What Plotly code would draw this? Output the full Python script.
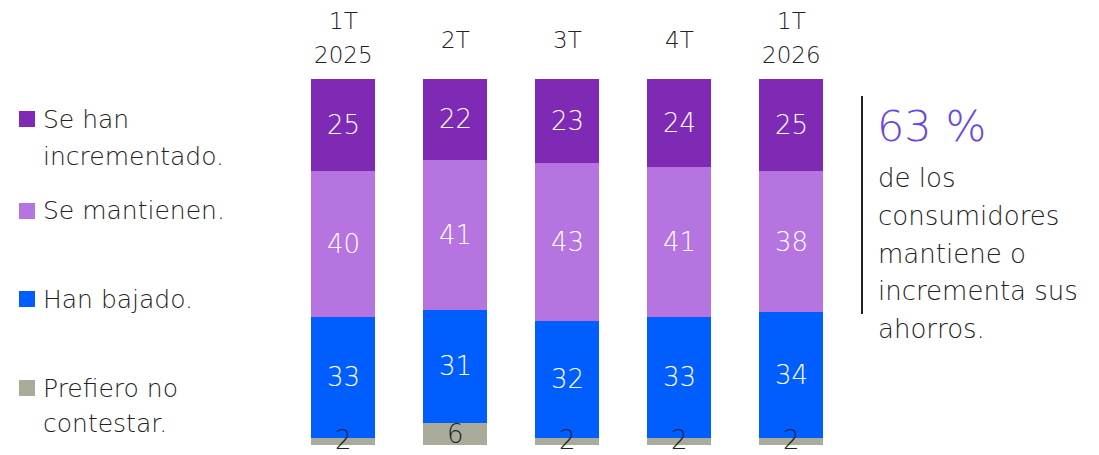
import plotly.graph_objects as go

categories = ["1T<br>2025", "2T", "3T", "4T", "1T<br>2026"]
series_names = ["Prefiero no<br>contestar.", "Han bajado.", "Se mantienen.", "Se han<br>incrementado."]
prefiero = [2, 6, 2, 2, 2]
bajado = [33, 31, 32, 33, 34]
mantienen = [40, 41, 43, 41, 38]
incrementado = [25, 22, 23, 24, 25]
colors = ["#ABAB9B", "#005EFF", "#B574E0", "#7F2AB5"]
label_colors = ["#222222", "#FFFFFF", "#FFFFFF", "#FFFFFF"]
side_big = "63 %"
side_text = ["de los", "consumidores", "mantiene o", "incrementa sus", "ahorros."]

FONT = "DejaVu Sans"
WT = 300
TXT = "#222222"
W, H = 1099, 455
T, B = 79, 10
x0, x1 = 287, 847

series = [prefiero, bajado, mantienen, incrementado]
xs = list(range(len(categories)))
totals = [sum(s[i] for s in series) for i in xs]

fig = go.Figure()
for name, vals, col in zip(series_names, series, colors):
    fig.add_trace(go.Bar(x=xs, y=vals, name=name, marker=dict(color=col, line=dict(width=0)),
                         showlegend=False, hoverinfo="skip"))

pw = x1 - x0
ph = H - T - B

def px_x(p):
    return (p - x0) / pw

def px_y(p):
    return (H - B - p) / ph

annotations = []
NUM_SIZE = 26
# value labels (positions follow the percent-normalised stack)
for si, vals in enumerate(series):
    for i, v in enumerate(vals):
        base = sum(series[k][i] for k in range(si))
        yc = (base + v / 2) * 100 / totals[i]
        shift = 0
        if si == 0:
            centre_px = (H - B) - yc / 100 * ph
            shift = -min(0, (H - 1 - NUM_SIZE * 0.55) - centre_px)
        annotations.append(dict(x=xs[i], y=yc, xref="x", yref="y", text=str(v), showarrow=False,
                                yshift=shift, yanchor="middle",
                                font=dict(family=FONT, size=NUM_SIZE, color=label_colors[si], weight=WT)))

# category labels (top), one annotation per line
for i, c in enumerate(categories):
    lines = c.split("<br>")
    ys = [40] if len(lines) == 1 else [21, 55]
    for ln, yy in zip(lines, ys):
        annotations.append(dict(x=xs[i], y=px_y(yy), xref="x", yref="paper", text=ln, showarrow=False,
                                yanchor="middle",
                                font=dict(family=FONT, size=23, color=TXT, weight=WT)))

# legend (left)
leg_order = [3, 2, 1, 0]
leg_lines_y = [[119, 156], [211], [299], [388, 423]]
shapes = []
for ys, si in zip(leg_lines_y, leg_order):
    for ln, yy in zip(series_names[si].split("<br>"), ys):
        annotations.append(dict(x=px_x(41), y=px_y(yy), xref="paper", yref="paper", xanchor="left",
                                yanchor="middle", align="left", text=ln, showarrow=False,
                                font=dict(family=FONT, size=25, color=TXT, weight=WT)))
    sq = ys[0]
    shapes.append(dict(type="rect", xref="paper", yref="paper", x0=px_x(19), x1=px_x(35),
                       y0=px_y(sq + 8), y1=px_y(sq - 8), fillcolor=colors[si], line=dict(width=0)))

# right side text
annotations.append(dict(x=px_x(875), y=px_y(126), text=side_big, showarrow=False, xanchor="left",
                        yanchor="middle", xref="paper", yref="paper",
                        font=dict(family=FONT, size=43, color="#6A46E0", weight=WT)))
for j, t in enumerate(side_text):
    annotations.append(dict(x=px_x(876), y=px_y(178 + j * 37.8), text=t, showarrow=False,
                            xanchor="left", yanchor="middle", xref="paper", yref="paper",
                            font=dict(family=FONT, size=26, color=TXT, weight=WT)))
shapes.append(dict(type="line", xref="paper", yref="paper", x0=px_x(862), x1=px_x(862),
                   y0=px_y(96), y1=px_y(314), line=dict(color=TXT, width=2)))

fig.update_layout(
    barmode="stack", barnorm="percent", bargap=0.43, width=W, height=H,
    margin=dict(l=x0, r=W - x1, t=T, b=B, pad=0),
    paper_bgcolor="white", plot_bgcolor="white",
    xaxis=dict(range=[-0.5, 4.5], visible=False, fixedrange=True),
    yaxis=dict(range=[0, 100], visible=False, fixedrange=True),
    annotations=annotations, shapes=shapes, showlegend=False,
)
fig.write_html("out.html", config={"displayModeBar": False})
